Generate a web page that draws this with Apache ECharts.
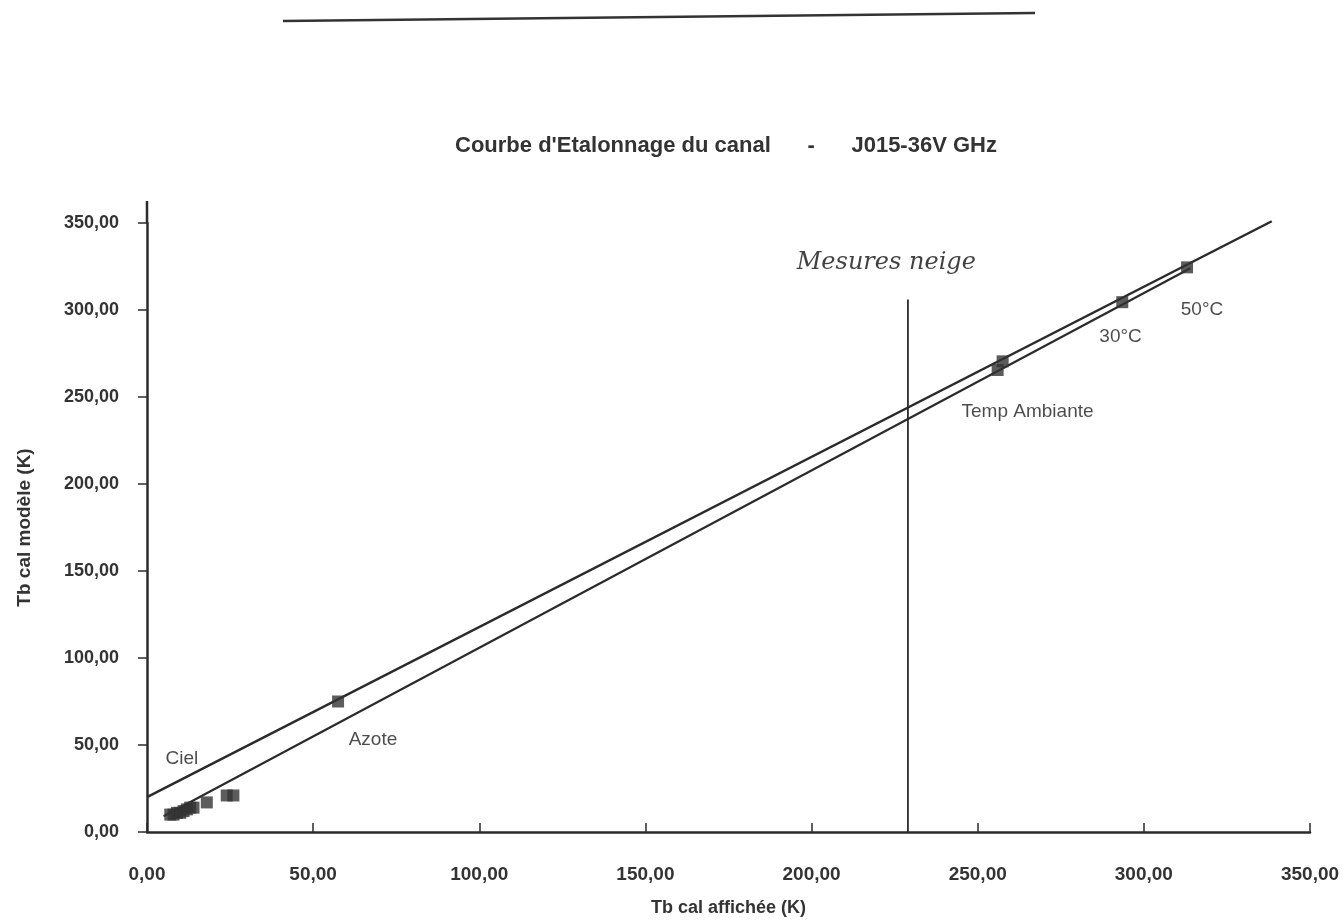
<!DOCTYPE html>
<html>
<head>
<meta charset="utf-8">
<script src="https://cdn.jsdelivr.net/npm/echarts@6/dist/echarts.min.js"></script>
<style>
html,body{margin:0;padding:0;background:#fff;}
#chart{width:1344px;height:922px;}
</style>
</head>
<body>
<div id="chart"></div>
<script>
// Calibration points (Tb cal affichée, Tb cal modèle)
const calX = [7, 8, 9, 10, 11, 12, 13, 14, 18, 24, 26, 57.5, 256, 257.5, 293.5, 313];
const calY = [10, 10, 11, 11, 12, 13, 14, 14, 17, 21, 21, 75, 265.5, 270.5, 304.5, 324.5];
// Fitted lines
const cielFitX = [0, 338.5];
const cielFitY = [20, 351];
const azoteFitX = [5, 314];
const azoteFitY = [9, 324];
// "Mesures neige" vertical marker
const neigeX = [229, 229];
const neigeY = [0, 306];
// Annotations
const noteText = ['Ciel', 'Azote', 'Temp Ambiante', '30°C', '50°C'];
const noteX = [10.5, 68, 265, 293, 317.5];
const noteY = [42, 53, 241.5, 284.5, 300];
const handText = ['Mesures neige'];
const handX = [222.5];
const handY = [327];

const titleText = "Courbe d'Etalonnage du canal      -      J015-36V GHz";
const xName = 'Tb cal affichée (K)';
const yName = 'Tb cal modèle (K)';

const ink = '#2b2b2b';
const fmt = v => v.toFixed(2).replace('.', ',');
const zip = (a, b) => a.map((v, i) => [v, b[i]]);

const chart = echarts.init(document.getElementById('chart'), null, {renderer: 'canvas'});
const option = {
  backgroundColor: '#ffffff',
  animation: false,
  title: {
    text: titleText,
    left: 721, top: 130, textAlign: 'center',
    textStyle: {fontFamily: 'Liberation Sans', fontWeight: 'bold', fontSize: 22, color: '#333'}
  },
  grid: {left: 147, right: 34, top: 223, bottom: 87, containLabel: false},
  xAxis: {
    type: 'value', min: 0, max: 350, interval: 50,
    name: xName, nameLocation: 'middle', nameGap: 67,
    nameTextStyle: {fontFamily: 'Liberation Sans', fontWeight: 'bold', fontSize: 18, color: '#333'},
    axisLine: {show: true, onZero: false, lineStyle: {color: ink, width: 2.5}},
    axisTick: {show: true, inside: true, length: 9, lineStyle: {color: ink, width: 1.5}},
    axisLabel: {formatter: fmt, margin: 33, fontFamily: 'Liberation Sans', fontWeight: 'bold', fontSize: 19, color: '#333'},
    splitLine: {show: false}
  },
  yAxis: {
    type: 'value', min: 0, max: 350, interval: 50,
    name: yName, nameLocation: 'middle', nameGap: 113, nameRotate: 90,
    nameTextStyle: {fontFamily: 'Liberation Sans', fontWeight: 'bold', fontSize: 19, color: '#333'},
    axisLine: {show: true, onZero: false, lineStyle: {color: ink, width: 2.5}},
    axisTick: {show: true, length: 9, lineStyle: {color: ink, width: 1.5}},
    axisLabel: {formatter: fmt, margin: 28, fontFamily: 'Liberation Sans', fontWeight: 'bold', fontSize: 18, color: '#333'},
    splitLine: {show: false}
  },
  series: [
    {
      type: 'line', data: zip(cielFitX, cielFitY), symbol: 'none', clip: false,
      lineStyle: {color: ink, width: 2.5}, z: 3
    },
    {
      type: 'line', data: zip(azoteFitX, azoteFitY), symbol: 'none', clip: false,
      lineStyle: {color: ink, width: 2.2}, z: 3
    },
    {
      type: 'line', data: zip(neigeX, neigeY), symbol: 'none',
      lineStyle: {color: ink, width: 1.8}, z: 3
    },
    {
      type: 'scatter', data: zip(calX, calY), symbol: 'rect', symbolSize: 12,
      itemStyle: {color: '#333'}, z: 4
    },
    {
      type: 'scatter', data: noteText.map((t, i) => ({value: [noteX[i], noteY[i]], name: t})),
      symbolSize: 0, silent: true,
      label: {show: true, position: 'inside', formatter: p => p.name,
        fontFamily: 'Liberation Sans', fontSize: 19, color: '#1e1e1e'}
    },
    {
      type: 'scatter', data: handText.map((t, i) => ({value: [handX[i], handY[i]], name: t})),
      symbolSize: 0, silent: true,
      label: {show: true, position: 'inside', formatter: p => p.name,
        fontFamily: 'DejaVu Serif', fontStyle: 'italic', fontSize: 24, color: '#111'}
    }
  ]
};
chart.setOption(option);

// Decorations: y-axis line extends slightly above the top tick; rule at top of page
const axisTop = chart.convertToPixel({xAxisIndex: 0, yAxisIndex: 0}, [0, 350]);
chart.setOption({
  graphic: [
    {type: 'line', shape: {x1: axisTop[0], y1: axisTop[1], x2: axisTop[0], y2: axisTop[1] - 22},
     style: {stroke: ink, lineWidth: 2.5}},
    {type: 'line', shape: {x1: 283, y1: 21, x2: 1035, y2: 13},
     style: {stroke: '#333', lineWidth: 2.5}}
  ]
});
</script>
</body>
</html>
